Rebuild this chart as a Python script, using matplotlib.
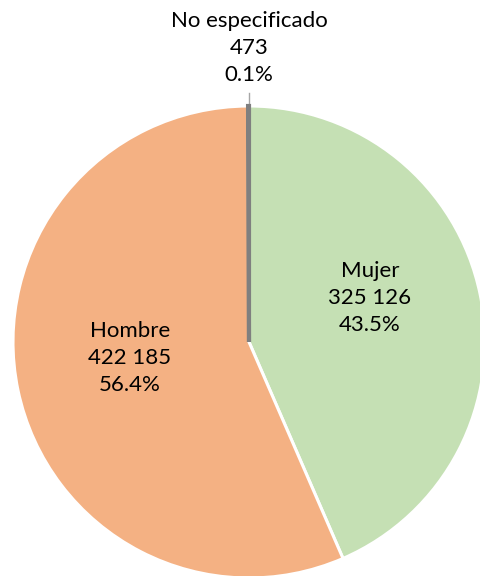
import matplotlib
matplotlib.use("Agg")
import matplotlib.pyplot as plt

# datos
categorias = ["Mujer", "Hombre", "No especificado"]
valores = [325126, 422185, 473]
porcentajes = ["43.5%", "56.4%", "0.1%"]
colores = ["#C5E0B4", "#F4B183", "#7F7F7F"]

plt.rcParams['font.family'] = ['Lato', 'DejaVu Sans']

fig = plt.figure(figsize=(4.8, 5.76), dpi=100)
ax = fig.add_axes([0, 0, 1, 1])

# pastel, en coordenadas de pixel (y hacia arriba)
cx, cy, r = 249, 576 - 342, 236
wedges, _ = ax.pie(valores, colors=colores, startangle=90, counterclock=False,
                   center=(cx, cy), radius=r,
                   wedgeprops=dict(edgecolor='white', linewidth=2.2))
# la rebanada minima se ve como una franja gris
wedges[2].set_edgecolor('#7F7F7F')
wedges[2].set_linewidth(3)
wedges[2].set_zorder(5)

ax.set_xlim(0, 480)
ax.set_ylim(0, 576)
ax.set_aspect('equal')
ax.axis('off')


def fmt(v):
    return f"{v:,}".replace(",", " ")


textos = [f"{c}\n{fmt(v)}\n{p}" for c, v, p in zip(categorias, valores, porcentajes)]
pos = [(370, 576 - 298), (130, 576 - 358), (249, 576 - 48)]
for t, (x, y) in zip(textos, pos):
    ax.text(x, y, t, ha='center', va='center', fontsize=16,
            linespacing=1.42, color='black')

# linea guia de "No especificado"
ax.plot([cx, cx], [576 - 93, 576 - 106], color='#A6A6A6', linewidth=1)

fig.savefig("out.png", dpi=100)
